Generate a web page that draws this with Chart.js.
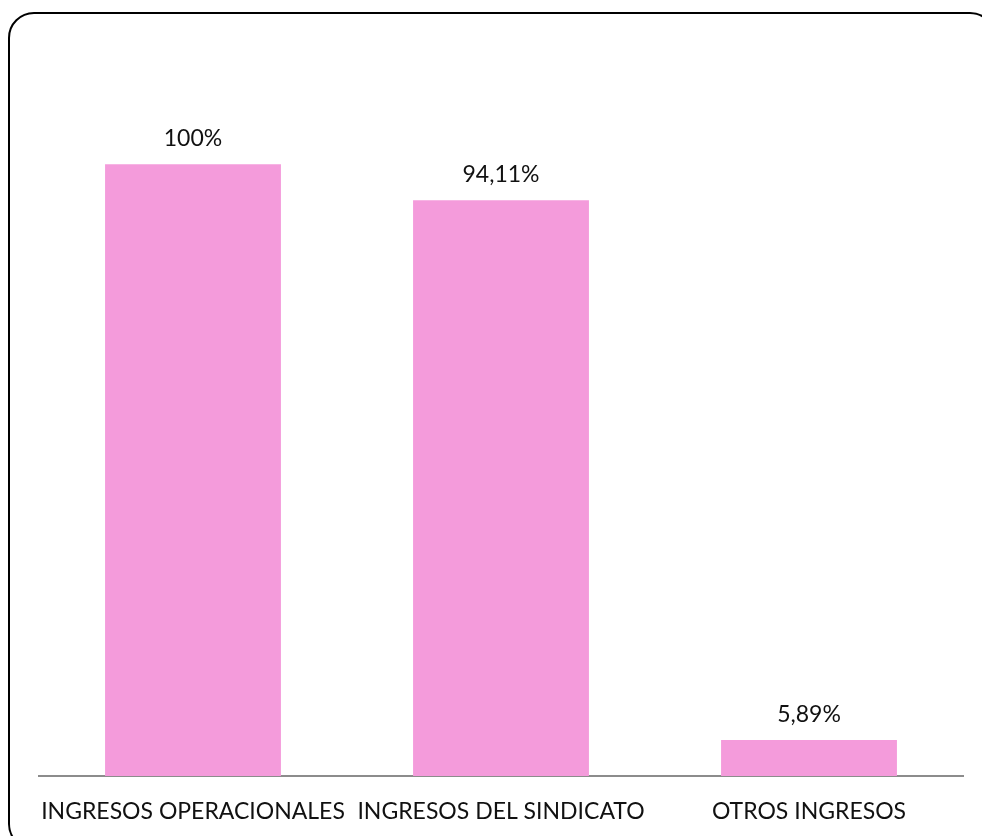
<!DOCTYPE html>
<html lang="es">
<head>
  <meta charset="UTF-8">
  <title>Ingresos</title>
  <script src="https://cdn.jsdelivr.net/npm/chart.js"></script>
  <style>
    body {
      margin: 0;
      background: #fff;
      overflow: hidden;
    }

    #wrap {
      position: relative;
      width: 982px;
      height: 836px;
    }

    #frame {
      position: absolute;
      left: 8px;
      top: 12px;
      width: 988px;
      height: 838px;
      border: 2px solid #000;
      border-radius: 26px;
      box-sizing: border-box;
    }

    canvas {
      position: absolute;
      left: 0;
      top: 0;
    }
  </style>
</head>
<body>

  <div id="wrap">
    <div id="frame"></div>
    <canvas id="ingresosChart" width="982" height="836"></canvas>
  </div>

  <script>
    const categorias = ['INGRESOS OPERACIONALES', 'INGRESOS DEL SINDICATO', 'OTROS INGRESOS'];
    const valores = [100, 94.11, 5.89];
    const etiquetas = ['100%', '94,11%', '5,89%'];

    // value labels above each bar
    const etiquetasPlugin = {
      id: 'etiquetas',
      afterDatasetsDraw(chart) {
        const ctx = chart.ctx;
        const meta = chart.getDatasetMeta(0);
        ctx.save();
        ctx.font = '23px Lato';
        ctx.fillStyle = '#111';
        ctx.textAlign = 'center';
        ctx.textBaseline = 'alphabetic';
        meta.data.forEach((bar, i) => {
          ctx.fillText(etiquetas[i], bar.x, bar.y - 18);
        });
        ctx.restore();
      }
    };

    const ctx = document.getElementById('ingresosChart').getContext('2d');
    new Chart(ctx, {
      type: 'bar',
      data: {
        labels: categorias,
        datasets: [{
          data: valores,
          backgroundColor: '#F49BDB',
          barPercentage: 0.571,
          categoryPercentage: 1
        }]
      },
      options: {
        responsive: false,
        animation: false,
        layout: {
          padding: { left: 39, right: 19, top: 103, bottom: 0 }
        },
        plugins: {
          legend: { display: false },
          tooltip: { enabled: false }
        },
        scales: {
          x: {
            grid: { display: false },
            border: { display: true, color: '#8c8c8c', width: 2 },
            ticks: {
              color: '#111',
              font: { family: 'Lato', size: 23 },
              maxRotation: 0,
              autoSkip: false,
              padding: 14
            },
            afterFit(scale) {
              scale.height = 60;
            }
          },
          y: {
            display: false,
            min: 0,
            max: 110
          }
        }
      },
      plugins: [etiquetasPlugin]
    });
  </script>

</body>
</html>
